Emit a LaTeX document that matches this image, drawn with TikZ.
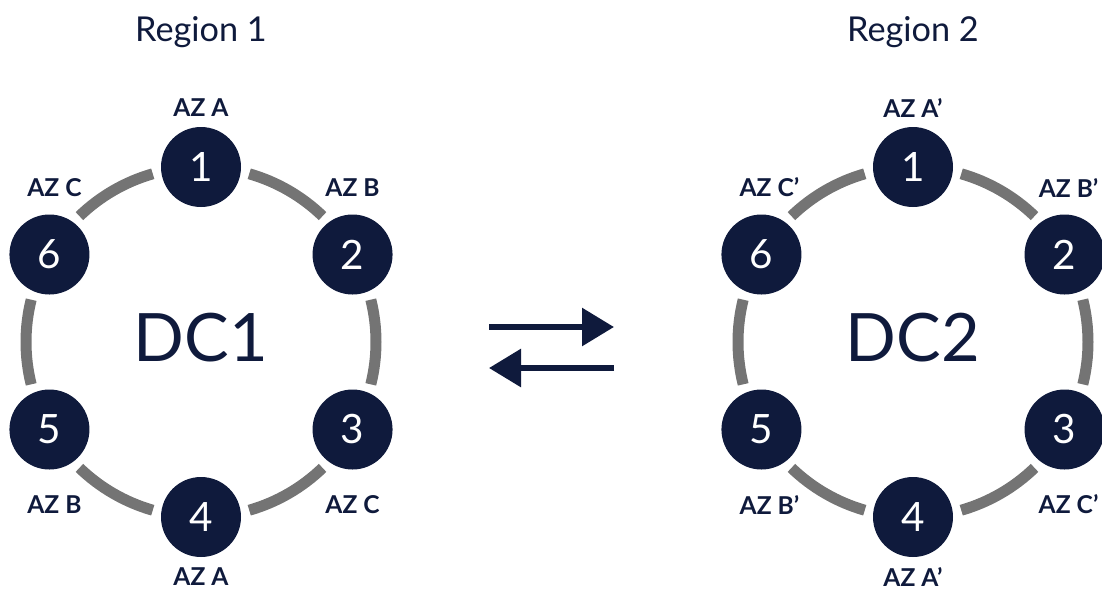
\documentclass[tikz,border=0pt]{standalone}
\usepackage{fontspec}
\setmainfont{Lato}
\usetikzlibrary{arrows.meta, positioning}

\definecolor{navy}{HTML}{0F1A3C}
\definecolor{ringgray}{HTML}{747474}

\begin{document}
\begin{tikzpicture}[every node/.style={text=navy},
  azone/.style={circle, fill=navy, minimum size=1.6cm, inner sep=0pt, text=white, font=\fontsize{23}{23}\selectfont},
  azlabel/.style={font=\fontsize{14}{14}\selectfont\bfseries},
  region/.style={font=\fontsize{19.5}{19.5}\selectfont, anchor=base},
  dcname/.style={font=\fontsize{38}{38}\selectfont},
  ring/.style={draw=ringgray, line width=0.22cm},
  flow/.style={draw=navy, line width=0.12cm, -{Triangle[length=0.64cm, width=0.74cm]}}]
\useasboundingbox (0,0) rectangle (22.04,-11.82);
% ring centres
\coordinate (dcl) at (4.02,-6.84);
\coordinate (dcr) at (18.26,-6.84);
% Region titles
\node[region] (regl) at (4.02,-0.82) {Region 1};
\node[region] (regr) at (18.26,-0.82) {Region 2};
% ring segments between the zones
\foreach \a in {90,30,-30,-90,-150,150} {
  \draw[ring] ([shift={(\a+16:3.5)}]dcl) arc[start angle=\a+16, end angle=\a+44, radius=3.5];
  \draw[ring] ([shift={(\a+16:3.5)}]dcr) arc[start angle=\a+16, end angle=\a+44, radius=3.5];
}
% Availability zones
\foreach \n/\a in {1/90, 2/30, 3/-30, 4/-90, 5/-150, 6/150} {
  \node[azone] (l\n) at ([shift={(\a:3.5)}]dcl) {\n};
  \node[azone] (r\n) at ([shift={(\a:3.5)}]dcr) {\n};
}
\node[dcname] (dc1) at ([yshift=0.08cm]dcl) {DC1};
\node[dcname] (dc2) at ([yshift=0.08cm]dcr) {DC2};
% Zone labels, DC1
\node[azlabel] at ([yshift=1.18cm]l1) {AZ A};
\node[azlabel] at ([yshift=1.34cm]l2) {AZ B};
\node[azlabel] at ([yshift=-1.5cm]l3) {AZ C};
\node[azlabel] at ([yshift=-1.2cm]l4) {AZ A};
\node[azlabel] at ([xshift=0.1cm, yshift=-1.5cm]l5) {AZ B};
\node[azlabel] at ([xshift=0.1cm, yshift=1.34cm]l6) {AZ C};
% Zone labels, DC2
\node[azlabel] at ([yshift=1.18cm]r1) {AZ A’};
\node[azlabel] at ([xshift=0.08cm, yshift=1.34cm]r2) {AZ B’};
\node[azlabel] at ([xshift=0.08cm, yshift=-1.5cm]r3) {AZ C’};
\node[azlabel] at ([yshift=-1.2cm]r4) {AZ A’};
\node[azlabel] at ([xshift=0.16cm, yshift=-1.5cm]r5) {AZ B’};
\node[azlabel] at ([xshift=0.16cm, yshift=1.34cm]r6) {AZ C’};
% Replication both ways
\coordinate (fwdA) at (9.78,-6.54);
\coordinate (fwdB) at (12.28,-6.54);
\coordinate (backA) at (12.28,-7.36);
\coordinate (backB) at (9.78,-7.36);
\draw[flow] (fwdA) -- (fwdB);
\draw[flow] (backA) -- (backB);
\end{tikzpicture}
\end{document}
